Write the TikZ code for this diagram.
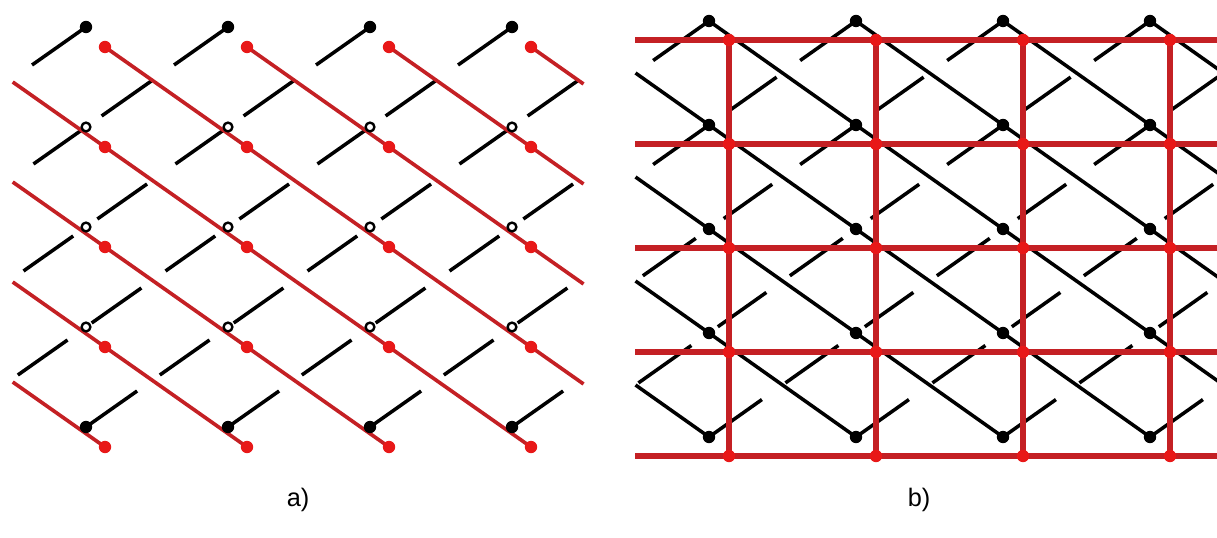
\documentclass[tikz,border=0pt]{standalone}
\usepackage{fontspec}
\setmainfont{Liberation Sans}
\usetikzlibrary{calc}
\definecolor{redline}{RGB}{196,32,36}
\definecolor{reddot}{RGB}{232,24,24}

\begin{document}
\begin{tikzpicture}[
    x=0.025cm, y=-0.025cm,
    kdot/.style={circle, fill=black, inner sep=0pt, minimum size=0.31cm},
    hdot/.style={circle, draw=black, fill=white, line width=1.7pt, inner sep=0pt, minimum size=0.22cm},
    rdot/.style={circle, fill=reddot, inner sep=0pt, minimum size=0.31cm},
    strand/.style={line width=2.5pt, color=black},
    redline/.style={line width=2.6pt, color=redline},
    gridline/.style={line width=4pt, color=redline},
    caption/.style={font=\fontsize{18}{21}\selectfont}
]
\useasboundingbox (0,0) rectangle (1217,538);

% --- lattice points (columns 1..4 and rows 0..4 are drawn) ---
\foreach \c in {0,...,5} \foreach \j in {0,...,5} {
  \coordinate (pa-\c-\j) at (86+142*\c-142, 27+100*\j);
  \coordinate (qa-\c-\j) at (105+142*\c-142, 47+100*\j);
  \coordinate (pb-\c-\j) at (709+147*\c-147, 21+104*\j);
  \coordinate (qb-\c-\j) at (729+147*\c-147, 40+104*\j);
}

% --- a) broken strands ---
\foreach \j/\a/\b in {0/0.03/0.54, 1/0.02/0.57, 2/0.09/0.61, 3/0.13/0.64} {
  \pgfmathtruncatemacro{\jn}{\j+1}
  \foreach \c in {1,...,4} {
    \pgfmathtruncatemacro{\cm}{\c-1}
    \pgfmathtruncatemacro{\cp}{\c+1}
    \draw[strand] ($(pa-\c-\j)!\a!(pa-\cm-\jn)$) -- ($(pa-\c-\j)!\a+0.35!(pa-\cm-\jn)$);
    \draw[strand] ($(pa-\cp-\j)!\b!(pa-\c-\jn)$) -- ($(pa-\cp-\j)!\b+0.35!(pa-\c-\jn)$);
  }
}

% --- a) red diagonals ---
\foreach \c in {1,...,4} {
  \pgfmathtruncatemacro{\k}{4-\c}
  \pgfmathtruncatemacro{\kn}{5-\c}
  \draw[redline] (qa-\c-0) -- ($(qa-4-\k)!0.37!(qa-5-\kn)$);
}
\foreach \j in {0,...,3} {
  \pgfmathtruncatemacro{\jn}{\j+1}
  \pgfmathtruncatemacro{\k}{4-\j}
  \draw[redline] ($(qa-0-\j)!0.35!(qa-1-\jn)$) -- (qa-\k-4);
}

% --- a) dots ---
\foreach \c in {1,...,4} {
  \foreach \j in {0,4} \node[kdot] (ka-\c-\j) at (pa-\c-\j) {};
  \foreach \j in {1,2,3} \node[hdot] (ka-\c-\j) at (pa-\c-\j) {};
  \foreach \j in {0,...,4} \node[rdot] (ra-\c-\j) at (qa-\c-\j) {};
}

\begin{scope}
\clip (620,0) rectangle (1217,538);

% --- b) broken strands ---
\foreach \j/\a/\b in {0/0.02/0.54, 1/0.02/0.57, 2/0.09/0.61, 3/0.12/0.64} {
  \pgfmathtruncatemacro{\jn}{\j+1}
  \foreach \c in {1,...,4} {
    \pgfmathtruncatemacro{\cm}{\c-1}
    \pgfmathtruncatemacro{\cp}{\c+1}
    \draw[strand] ($(pb-\c-\j)!\a!(pb-\cm-\jn)$) -- ($(pb-\c-\j)!\a+0.36!(pb-\cm-\jn)$);
    \draw[strand] ($(pb-\cp-\j)!\b!(pb-\c-\jn)$) -- ($(pb-\cp-\j)!\b+0.33!(pb-\c-\jn)$);
  }
}

% --- b) black diagonals ---
\foreach \c in {1,...,4} {
  \pgfmathtruncatemacro{\k}{4-\c}
  \pgfmathtruncatemacro{\kn}{5-\c}
  \draw[strand] (pb-\c-0) -- ($(pb-4-\k)!0.5!(pb-5-\kn)$);
}
\foreach \j in {0,...,3} {
  \pgfmathtruncatemacro{\jn}{\j+1}
  \pgfmathtruncatemacro{\k}{4-\j}
  \draw[strand] ($(pb-0-\j)!0.5!(pb-1-\jn)$) -- (pb-\k-4);
}

% --- b) red grid ---
\foreach \j in {0,...,4} {
  \coordinate (gl-\j) at (635, 40+104*\j);
  \coordinate (gr-\j) at (1217, 40+104*\j);
  \draw[gridline] (gl-\j) -- (gr-\j);
}
\foreach \c in {1,...,4} \draw[gridline] (qb-\c-0) -- (qb-\c-4);

% --- b) dots ---
\foreach \c in {1,...,4} \foreach \j in {0,...,4} {
  \node[kdot] (kb-\c-\j) at (pb-\c-\j) {};
  \node[rdot] (rb-\c-\j) at (qb-\c-\j) {};
}
\end{scope}

% captions
\node[caption] (capa) at (298,500) {a)};
\node[caption] (capb) at (919,500) {b)};

\end{tikzpicture}
\end{document}
